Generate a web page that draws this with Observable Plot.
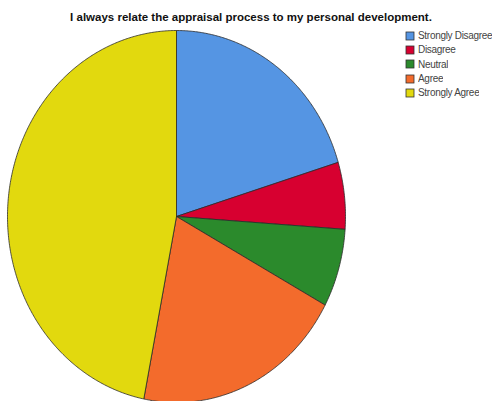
<!DOCTYPE html>
<html>
<head>
<meta charset="utf-8">
<script src="https://cdn.jsdelivr.net/npm/d3@7"></script>
<script src="https://cdn.jsdelivr.net/npm/@observablehq/plot@0.6"></script>
<style>
  html, body { margin: 0; padding: 0; background: #fff; }
  #wrap { position: relative; width: 492px; height: 401px; overflow: hidden; }
  #title { position: absolute; left: 0; width: 502px; top: 11px; text-align: center;
           font: bold 11.5px "Liberation Sans", Arial, sans-serif; color: #111; white-space: nowrap; }
  #legend { position: absolute; left: 406px; top: 29px; }
  .lg-swatch { font: 10px "Liberation Sans", Arial, sans-serif !important; letter-spacing: -0.3px; color: #444; height: 13.3px; line-height: 13.3px; white-space: nowrap; }
  .lg-swatch svg { margin-right: 4px !important; }
  .lg-swatch svg rect { stroke: #333; stroke-width: 0.8; }
</style>
</head>
<body>
<div id="wrap">
  <div id="chart"></div>
  <div id="title"></div>
  <div id="legend"></div>
</div>
<script>
const title = "I always relate the appraisal process to my personal development.";
const categories = ["Strongly Disagree", "Disagree", "Neutral", "Agree", "Strongly Agree"];
const percents = [20.3, 5.8, 6.8, 20.2, 46.9];
const colors = ["#5595e3", "#d70030", "#2b8a2c", "#f36b2c", "#e2d90e"];

const arcs = d3.pie().sort(null).value(d => d.v)(categories.map((c, i) => ({c, v: percents[i]})));
const pts = [];
for (const a of arcs) {
  const c = a.data.c;
  pts.push({c, x: 0, y: 0});
  const n = Math.max(2, Math.ceil((a.endAngle - a.startAngle) / (Math.PI / 360)));
  for (let k = 0; k <= n; k++) {
    const t = a.startAngle + (a.endAngle - a.startAngle) * k / n;
    pts.push({c, x: Math.sin(t), y: Math.cos(t)});
  }
  pts.push({c, x: 0, y: 0});
}

const plot = Plot.plot({
  width: 492,
  height: 401,
  x: {domain: [-1, 1], range: [7, 345], axis: null},
  y: {domain: [-1, 1], range: [402, 30], axis: null},
  color: {domain: categories, range: colors},
  className: "lg",
  marks: [
    Plot.line(pts, {x: "x", y: "y", z: "c", fill: "c", stroke: "#2a2a2a", strokeWidth: 0.8, curve: "linear"})
  ]
});
document.getElementById("chart").appendChild(plot);
document.getElementById("title").textContent = title;
const leg = plot.legend("color", {columns: 1, swatchSize: 8});
document.getElementById("legend").appendChild(leg);
</script>
</body>
</html>
